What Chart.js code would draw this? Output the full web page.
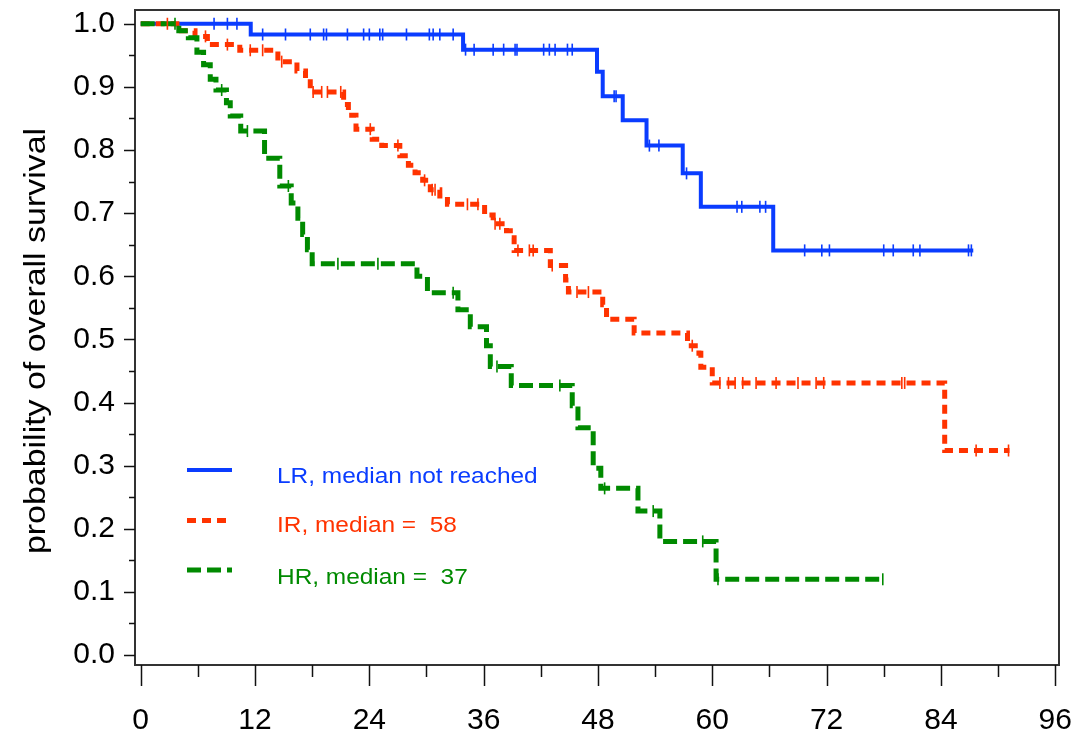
<!DOCTYPE html>
<html>
<head>
<meta charset="utf-8">
<title>Overall survival by risk group</title>
<script src="https://cdn.jsdelivr.net/npm/chart.js@4.4.1/dist/chart.umd.min.js"></script>
<style>
  html, body { margin: 0; padding: 0; background: #fff; }
  #wrap { width: 1074px; height: 738px; }
</style>
</head>
<body>
<div id="wrap"><canvas id="km" width="1074" height="738"></canvas></div>
<script>
// axis ticks (months / probability)
const xTicks = [0, 12, 24, 36, 48, 60, 72, 84, 96];
const xMinorTicks = [6, 18, 30, 42, 54, 66, 78, 90];
const yTicks = [0, 0.1, 0.2, 0.3, 0.4, 0.5, 0.6, 0.7, 0.8, 0.9, 1.0];
const yMinorTicks = [0.05, 0.15, 0.25, 0.35, 0.45, 0.55, 0.65, 0.75, 0.85, 0.95];

const seriesLabels = ['LR, median not reached', 'IR, median =  58', 'HR, median =  37'];

// LR group: event times and survival after each event
const lrTimes = [11.55, 33.84, 47.9, 48.5, 50.6, 53.1, 56.9, 58.8, 66.4];
const lrSurv = [0.983, 0.959, 0.924, 0.885, 0.847, 0.807, 0.763, 0.710, 0.641];
const lrEnd = 87.4;
const lrCensored = [7.7, 9.1, 10.1, 12.8, 15.2, 17.8, 19.2, 19.5, 21.7, 23.4, 24.0, 25.1, 25.4, 27.9,
  30.3, 30.7, 31.4, 32.8, 34.1, 35.0, 37.0, 38.1, 39.3, 39.5, 42.3, 42.9, 43.5, 44.8, 45.3, 49.7, 49.9,
  53.4, 54.4, 57.3, 62.6, 63.1, 65.0, 65.6, 69.7, 71.5, 72.3, 78.0, 79.0, 81.1, 81.8, 86.9, 87.2];

// IR group
const irTimes = [3.8, 5.7, 7.0, 10.4, 14.4, 16.4, 17.3, 17.8, 21.3, 21.8, 22.6, 24.3, 25.3, 27.2, 28.1,
  28.8, 29.6, 30.4, 31.4, 32.2, 36.1, 37.0, 38.4, 38.8, 39.2, 43.0, 44.6, 44.9, 48.5, 48.9, 51.8, 57.4,
  58.6, 58.8, 60.0, 84.4];
const irSurv = [0.989, 0.980, 0.967, 0.958, 0.940, 0.925, 0.913, 0.892, 0.872, 0.855, 0.833, 0.817,
  0.807, 0.791, 0.776, 0.764, 0.752, 0.737, 0.727, 0.714, 0.697, 0.683, 0.672, 0.661, 0.641, 0.617,
  0.594, 0.575, 0.555, 0.532, 0.510, 0.490, 0.478, 0.456, 0.431, 0.324];
const irEnd = 91.2;
const irCensored = [2.8, 6.8, 9.1, 11.5, 12.8, 14.8, 18.1, 19.0, 19.6, 21.0, 24.1, 27.0, 29.8, 30.6,
  30.9, 34.3, 35.4, 37.2, 37.7, 39.6, 40.8, 41.2, 43.2, 45.8, 47.0, 57.9, 60.8, 61.7, 62.4, 63.2, 64.6,
  66.7, 69.0, 70.9, 71.7, 79.9, 80.2, 87.7, 91.1];

// HR group
const hrTimes = [4.0, 5.0, 5.9, 6.6, 7.3, 7.9, 9.0, 9.4, 10.5, 13.0, 14.6, 15.8, 16.5, 17.0, 17.5, 18.0,
  29.0, 30.1, 33.3, 34.6, 36.3, 36.7, 38.9, 45.3, 45.9, 47.5, 48.3, 52.2, 54.5, 60.4];
const hrSurv = [0.989, 0.978, 0.955, 0.935, 0.912, 0.895, 0.875, 0.854, 0.830, 0.787, 0.743, 0.716,
  0.692, 0.666, 0.642, 0.620, 0.600, 0.574, 0.547, 0.520, 0.490, 0.457, 0.427, 0.395, 0.360, 0.296,
  0.264, 0.228, 0.180, 0.120];
const hrEnd = 77.9;
const hrCensored = [3.6, 8.5, 11.2, 15.5, 20.7, 24.9, 32.8, 37.4, 44.0, 48.7, 53.8, 59.0, 60.6, 77.9];

const colors = { LR: '#0a3cff', IR: '#ff3300', HR: '#008a00' };
const dashes = { LR: [], IR: [9, 6], HR: [14, 6] };
const widths = { LR: 4, IR: 5, HR: 5 };
const FONT = "'Liberation Sans', Arial, sans-serif";

// step curve points: start at 1.0, one point per event, hold to last follow-up
function curve(times, surv, end) {
  const pts = [{ x: 0, y: 1 }];
  times.forEach((t, i) => pts.push({ x: t, y: surv[i] }));
  pts.push({ x: end, y: surv[surv.length - 1] });
  return pts;
}

// survival at time t (value of the step function)
function survAt(times, surv, t) {
  let s = 1;
  times.forEach((tt, i) => { if (tt <= t) s = surv[i]; });
  return s;
}

function censorMarks(times, surv, cens) {
  return cens.map(t => ({ x: t, y: survAt(times, surv, t) }));
}

function lineSet(key, pts, order) {
  return {
    type: 'line',
    data: pts,
    borderColor: colors[key],
    borderWidth: widths[key],
    borderDash: dashes[key],
    stepped: true,
    fill: false,
    pointRadius: 0,
    order: order
  };
}

function censorSet(key, pts, order) {
  return {
    type: 'scatter',
    data: pts,
    pointStyle: 'line',
    rotation: 90,
    pointRadius: 6,
    pointBorderWidth: 1.6,
    pointBorderColor: colors[key],
    pointBackgroundColor: colors[key],
    showLine: false,
    order: order
  };
}

// keep the plot box where the reference has it: no extra room for edge labels
function noEdgePadding(s) {
  s.paddingLeft = 0;
  s.paddingRight = 0;
  s.paddingTop = 0;
  s.paddingBottom = 0;
}

// frame, tick marks, rotated y title and legend
const kmDecor = {
  id: 'kmDecor',
  afterDraw(chart) {
    const ctx = chart.ctx;
    const a = chart.chartArea;
    const xs = chart.scales.x, ys = chart.scales.y;
    ctx.save();
    ctx.strokeStyle = '#333';
    ctx.lineWidth = 2;
    ctx.strokeRect(a.left, a.top, a.right - a.left, a.bottom - a.top);

    ctx.strokeStyle = '#111';
    ctx.lineWidth = 1.5;
    ctx.beginPath();
    xTicks.forEach(v => { const p = Math.round(xs.getPixelForValue(v)) + 0.5; ctx.moveTo(p, a.bottom); ctx.lineTo(p, a.bottom + 21); });
    xMinorTicks.forEach(v => { const p = Math.round(xs.getPixelForValue(v)) + 0.5; ctx.moveTo(p, a.bottom); ctx.lineTo(p, a.bottom + 12); });
    yTicks.forEach(v => { const p = Math.round(ys.getPixelForValue(v)) + 0.5; ctx.moveTo(a.left, p); ctx.lineTo(a.left - 11, p); });
    yMinorTicks.forEach(v => { const p = Math.round(ys.getPixelForValue(v)) + 0.5; ctx.moveTo(a.left, p); ctx.lineTo(a.left - 6, p); });
    ctx.stroke();

    // y axis title
    ctx.save();
    ctx.translate(37, 341);
    ctx.rotate(-Math.PI / 2);
    ctx.scale(1.17, 1);
    ctx.font = '29px ' + FONT;
    ctx.fillStyle = '#000';
    ctx.textAlign = 'center';
    ctx.textBaseline = 'middle';
    ctx.fillText('probability of overall survival', 0, 0);
    ctx.restore();

    // legend
    const keys = ['LR', 'IR', 'HR'];
    const lineY = [470, 520.5, 570];
    const textY = [477, 526, 578];
    keys.forEach((k, i) => {
      ctx.beginPath();
      ctx.strokeStyle = colors[k];
      ctx.lineWidth = widths[k];
      ctx.setLineDash(dashes[k]);
      ctx.moveTo(187, lineY[i]);
      ctx.lineTo(232, lineY[i]);
      ctx.stroke();
      ctx.setLineDash([]);
      ctx.save();
      ctx.translate(277, textY[i]);
      ctx.scale(1.11, 1);
      ctx.font = '22px ' + FONT;
      ctx.fillStyle = colors[k];
      ctx.textAlign = 'left';
      ctx.textBaseline = 'middle';
      ctx.fillText(seriesLabels[i], 0, 0);
      ctx.restore();
    });
    ctx.restore();
  }
};

new Chart(document.getElementById('km'), {
  data: {
    datasets: [
      lineSet('LR', curve(lrTimes, lrSurv, lrEnd), 5),
      lineSet('IR', curve(irTimes, irSurv, irEnd), 4),
      lineSet('HR', curve(hrTimes, hrSurv, hrEnd), 3),
      censorSet('LR', censorMarks(lrTimes, lrSurv, lrCensored), 2),
      censorSet('IR', censorMarks(irTimes, irSurv, irCensored), 1),
      censorSet('HR', censorMarks(hrTimes, hrSurv, hrCensored), 0)
    ]
  },
  options: {
    responsive: false,
    animation: false,
    events: [],
    layout: { padding: { top: 10, right: 15, left: 0, bottom: 0 } },
    plugins: { legend: { display: false }, tooltip: { enabled: false } },
    scales: {
      x: {
        type: 'linear',
        min: -0.6,
        max: 96.4,
        afterBuildTicks: s => { s.ticks = xTicks.map(v => ({ value: v })); },
        afterFit: s => { s.height = 73; noEdgePadding(s); },
        grid: { display: false, drawTicks: false },
        border: { display: false },
        ticks: {
          autoSkip: false,
          maxRotation: 0,
          padding: 38,
          color: '#000',
          font: { family: FONT, size: 30 },
          callback: v => String(v)
        }
      },
      y: {
        type: 'linear',
        min: -0.0158,
        max: 1.0218,
        afterBuildTicks: s => { s.ticks = yTicks.map(v => ({ value: v })); },
        afterFit: s => { s.width = 135; noEdgePadding(s); },
        grid: { display: false, drawTicks: false },
        border: { display: false },
        ticks: {
          padding: 20,
          color: '#000',
          font: { family: FONT, size: 30 },
          callback: v => v.toFixed(1)
        }
      }
    }
  },
  plugins: [kmDecor]
});
</script>
</body>
</html>
